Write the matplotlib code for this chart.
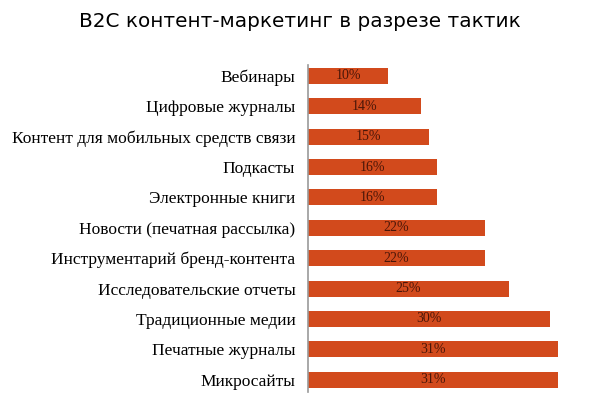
import matplotlib.pyplot as plt

labels = ["Вебинары", "Цифровые журналы", "Контент для мобильных средств связи",
          "Подкасты", "Электронные книги", "Новости (печатная рассылка)",
          "Инструментарий бренд-контента", "Исследовательские отчеты",
          "Традиционные медии", "Печатные журналы", "Микросайты"]
values = [10, 14, 15, 16, 16, 22, 22, 25, 30, 31, 31]

fig = plt.figure(figsize=(6, 3.99), dpi=100)
ax = fig.add_axes([0.513, 0.018, 0.47, 0.819])

y = range(len(values))
ax.barh(y, values, height=0.53, color="#D24A1C")
for i, v in enumerate(values):
    ax.text(v / 2, i, f"{v}%", ha="center", va="center", fontsize=10,
            color="#4a1608", family="Liberation Serif")

ax.set_yticks(list(y))
ax.set_yticklabels(labels, fontsize=12.5, family="Liberation Serif")
ax.tick_params(axis="y", length=0, pad=9)
ax.set_xticks([])
ax.set_xlim(0, 35)
ax.set_ylim(10.4, -0.36)
for s in ["top", "right", "bottom"]:
    ax.spines[s].set_visible(False)
ax.spines["left"].set_color("#999999")
ax.spines["left"].set_linewidth(1.2)

fig.text(0.5, 0.945, "B2C контент-маркетинг в разрезе тактик", ha="center",
         va="center", fontsize=14.4, family="DejaVu Sans")

fig.savefig("out.png", dpi=100)
